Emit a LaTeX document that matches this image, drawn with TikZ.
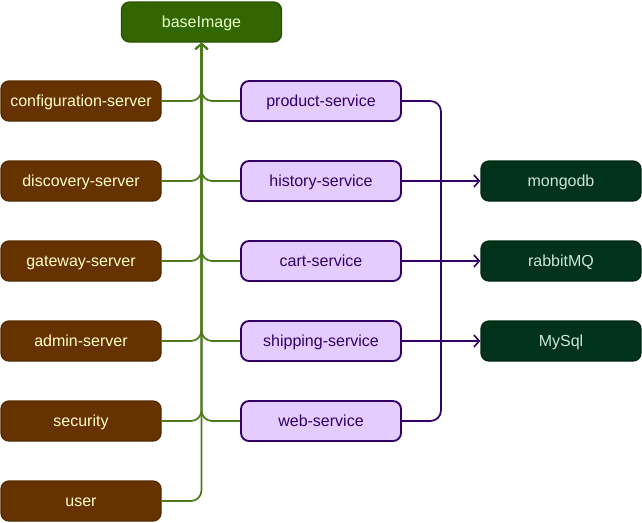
\documentclass[tikz,border=0pt]{standalone}
\usepackage{fontspec}
\setmainfont{Liberation Sans}
\usetikzlibrary{arrows.meta}
\definecolor{brownfill}{HTML}{663300}
\definecolor{browntext}{HTML}{FFFFCC}
\definecolor{purpfill}{HTML}{E5CCFF}
\definecolor{purpline}{HTML}{330066}
\definecolor{dgreenfill}{HTML}{003319}
\definecolor{dgreentext}{HTML}{CCE5D6}
\definecolor{basefill}{HTML}{336600}
\definecolor{basetext}{HTML}{E6FFCC}
\definecolor{gline}{HTML}{4D7A1A}
\tikzset{
  box/.style={rectangle, rounded corners=6pt, minimum width=120pt, minimum height=30pt, inner sep=0pt, text height=9pt, text depth=1.5pt, font=\fontsize{12}{14}\selectfont, line width=1pt},
  brownbox/.style={box, fill=brownfill, draw=brownfill!80!black, text=browntext},
  svcbox/.style={box, fill=purpfill, draw=purpline, line width=1.4pt, text=purpline},
  extbox/.style={box, fill=dgreenfill, draw=dgreenfill!80!black, text=dgreentext},
  basebox/.style={box, fill=basefill, draw=basefill!80!black, text=basetext},
  greenedge/.style={draw=gline, line width=1.3pt, rounded corners=8pt},
  purpedge/.style={draw=purpline, line width=1.3pt, rounded corners=8pt},
  tip/.style={-{Straight Barb[length=4pt,width=9pt,line width=1.2pt]}}
}
\begin{document}
\begin{tikzpicture}[x=0.75pt,y=-0.75pt]
\useasboundingbox (0,0) rectangle (642,522);
\node[basebox] (base) at (201.5,22) {baseImage};
\node[brownbox] (cfg) at (81,101) {configuration-server};
\node[brownbox] (disc) at (81,181) {discovery-server};
\node[brownbox] (gate) at (81,261) {gateway-server};
\node[brownbox] (admin) at (81,341) {admin-server};
\node[brownbox] (sec) at (81,421) {security};
\node[brownbox] (user) at (81,501) {user};
\node[svcbox] (prod) at (321,101) {product-service};
\node[svcbox] (hist) at (321,181) {history-service};
\node[svcbox] (cart) at (321,261) {cart-service};
\node[svcbox] (ship) at (321,341) {shipping-service};
\node[svcbox] (web) at (321,421) {web-service};
\node[extbox] (mongo) at (561,181) {mongodb};
\node[extbox] (rabbit) at (561,261) {rabbitMQ};
\node[extbox] (mysql) at (561,341) {MySql};
\coordinate (jmysql) at (441,341);
\coordinate (jmongo) at (441,181);
% green connectors
\foreach \n in {cfg,disc,gate,admin,sec,user}{
  \draw[greenedge,tip] (\n.east) -| (base.south);
}
\foreach \n in {prod,hist,cart,ship,web}{
  \draw[greenedge,tip] (\n.west) -| (base.south);
}
% purple connectors
\draw[purpedge,tip] (hist.east) -- (mongo.west);
\draw[purpedge,tip] (cart.east) -- (rabbit.west);
\draw[purpedge,tip] (ship.east) -- (mysql.west);
\draw[purpedge] (prod.east) -| (jmysql);
\draw[purpedge] (web.east) -| (jmongo);
\end{tikzpicture}
\end{document}
